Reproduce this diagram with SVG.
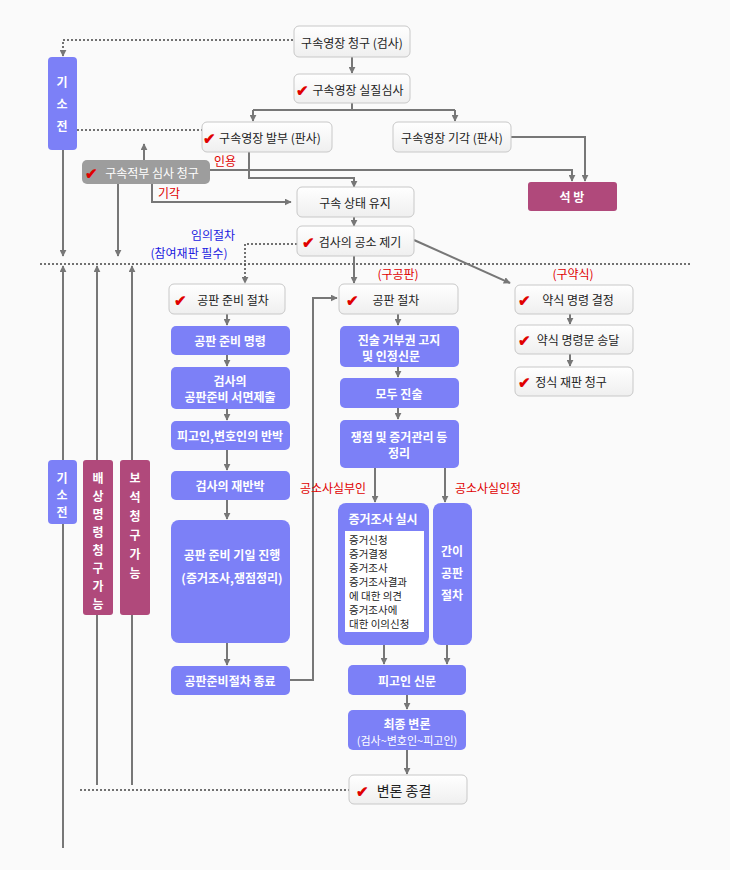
<svg xmlns="http://www.w3.org/2000/svg" width="730" height="870" viewBox="0 0 730 870">
<defs>
<linearGradient id="wg" x1="0" y1="0" x2="0" y2="1"><stop offset="0" stop-color="#ffffff"/><stop offset="1" stop-color="#efefef"/></linearGradient>
<marker id="ar" viewBox="0 0 10 10" refX="9" refY="5" markerWidth="7" markerHeight="7" orient="auto-start-reverse" markerUnits="userSpaceOnUse"><path d="M0,0 L10,5 L0,10 Z" fill="#777"/></marker>
</defs>
<style>
text{font-family:"Noto Sans CJK KR","Noto Sans",sans-serif;font-size:12px;fill:#222;text-anchor:middle;dominant-baseline:central}
.w{fill:url(#wg);stroke:#c8c8c8;stroke-width:1}
.b{fill:#7c80f7}
.p{fill:#b0497b}
.g{fill:#9d9d9d}
.wt{fill:#fff;font-weight:bold}
.r{fill:#e00000}
.bl{fill:#1a1ae0}
.ck{fill:#e00000;font-weight:bold;font-size:15px}
.ev{text-anchor:start;font-size:10.5px}
.ln{stroke:#777;stroke-width:2;fill:none}
.dt{stroke:#444;stroke-width:1.5;fill:none;stroke-dasharray:2 2}
.a{marker-end:url(#ar)}
</style>
<rect width="730" height="870" fill="#fafafa"/>
<g id="connectors">
<path class="dt a" d="M293,40 H63 V56"/>
<path class="dt" d="M77,130 H202"/>
<path class="dt a" d="M297,244 H245 V283"/>
<path class="dt" d="M40,264 H690"/>
<path class="dt" d="M80,790 H349"/>
<path class="ln a" d="M352,57 V73"/>
<path class="ln" d="M352,103 V110 M253,110 H455"/>
<path class="ln a" d="M253,110 V121"/>
<path class="ln a" d="M455,110 V121"/>
<path class="ln a" d="M511,137 H585 V181"/>
<path class="ln a" d="M210,170 H572 V181"/>
<path class="ln a" d="M249,152 V178 H354 V187"/>
<path class="ln a" d="M144,160 V144"/>
<path class="ln a" d="M152,184 V202 H291"/>
<path class="ln a" d="M118,184 V256"/>
<path class="ln a" d="M63,150 V256"/>
<path class="ln a" d="M354,217 V226"/>
<path class="ln a" d="M354,256 V283"/>
<path class="ln a" d="M414,240 L510,283"/>
<path class="ln a" d="M570,314 V324"/>
<path class="ln a" d="M570,354 V366"/>
<path class="ln a" d="M227,314 V325"/>
<path class="ln a" d="M227,355 V366"/>
<path class="ln a" d="M227,409 V420"/>
<path class="ln a" d="M227,450 V470"/>
<path class="ln a" d="M227,500 V519"/>
<path class="ln a" d="M227,643 V665"/>
<path class="ln a" d="M290,680 H313 V298 H337"/>
<path class="ln a" d="M398,314 V325"/>
<path class="ln a" d="M398,367 V377"/>
<path class="ln a" d="M398,408 V419"/>
<path class="ln a" d="M375,468 V502"/>
<path class="ln a" d="M445,468 V502"/>
<path class="ln a" d="M384,645 V664"/>
<path class="ln a" d="M447,645 V664"/>
<path class="ln a" d="M407,695 V709"/>
<path class="ln a" d="M407,750 V774"/>
<path class="ln a" d="M63,848 V266"/>
<path class="ln a" d="M97,785 V266"/>
<path class="ln a" d="M132,785 V266"/>
</g>
<g id="n1"><rect class="w" x="294" y="26" width="116" height="31" rx="5"/><text x="352" y="42">구속영장 청구 (검사)</text></g>
<g id="n2"><rect class="w" x="294" y="74" width="116" height="29" rx="5"/><text x="358" y="89">구속영장 실질심사</text><text class="ck" x="302" y="89">✔</text></g>
<g id="n3"><rect class="w" x="202" y="122" width="130" height="30" rx="5"/><text x="270" y="137">구속영장 발부 (판사)</text><text class="ck" x="209" y="137">✔</text></g>
<g id="n4"><rect class="w" x="393" y="122" width="118" height="30" rx="5"/><text x="452" y="137">구속영장 기각 (판사)</text></g>
<g id="n5"><rect class="p" x="528" y="182" width="89" height="29" rx="3"/><text class="wt" x="572" y="196">석 방</text></g>
<g id="n6"><rect class="g" x="82" y="160" width="128" height="24" rx="5"/><text class="wt" x="152" y="172" style="font-weight:normal">구속적부 심사 청구</text><text class="ck" x="91" y="172">✔</text></g>
<g id="n7"><rect class="w" x="297" y="187" width="117" height="30" rx="5"/><text x="355" y="202">구속 상태 유지</text></g>
<g id="n8"><rect class="w" x="297" y="226" width="117" height="30" rx="5"/><text x="360" y="241">검사의 공소 제기</text><text class="ck" x="308" y="241">✔</text></g>
<g id="lbl">
<text class="r" x="225" y="160">인용</text>
<text class="r" x="169" y="192">기각</text>
<text class="bl" x="213" y="234">임의절차</text>
<text class="bl" x="189" y="252">(참여재판 필수)</text>
<text class="r" x="398" y="273">(구공판)</text>
<text class="r" x="573" y="273">(구약식)</text>
<text class="r" x="333" y="487">공소사실부인</text>
<text class="r" x="488" y="487">공소사실인정</text>
</g>
<g id="pre1"><rect class="b" x="48" y="57" width="29" height="93" rx="4"/><text class="wt" x="62" y="81">기</text><text class="wt" x="62" y="103">소</text><text class="wt" x="62" y="125">전</text></g>
<g id="pre2"><rect class="b" x="48" y="460" width="29" height="64" rx="4"/><text class="wt" x="62" y="477">기</text><text class="wt" x="62" y="494">소</text><text class="wt" x="62" y="511">전</text></g>
<g id="bae"><rect class="p" x="83" y="460" width="30" height="155" rx="3"/><text class="wt" x="98" y="477">배</text><text class="wt" x="98" y="495">상</text><text class="wt" x="98" y="513">명</text><text class="wt" x="98" y="531">령</text><text class="wt" x="98" y="549">청</text><text class="wt" x="98" y="567">구</text><text class="wt" x="98" y="585">가</text><text class="wt" x="98" y="603">능</text></g>
<g id="bo"><rect class="p" x="120" y="460" width="30" height="155" rx="3"/><text class="wt" x="135" y="477">보</text><text class="wt" x="135" y="496">석</text><text class="wt" x="135" y="515">청</text><text class="wt" x="135" y="534">구</text><text class="wt" x="135" y="553">가</text><text class="wt" x="135" y="572">능</text></g>
<g id="l0"><rect class="w" x="169" y="284" width="116" height="30" rx="5"/><text x="233" y="299">공판 준비 절차</text><text class="ck" x="180" y="299">✔</text></g>
<g id="l1"><rect class="b" x="171" y="326" width="119" height="29" rx="5"/><text class="wt" x="230" y="340">공판 준비 명령</text></g>
<g id="l2"><rect class="b" x="171" y="367" width="119" height="42" rx="5"/><text class="wt" x="230" y="380">검사의</text><text class="wt" x="230" y="396">공판준비 서면제출</text></g>
<g id="l3"><rect class="b" x="171" y="421" width="119" height="29" rx="5"/><text class="wt" x="230" y="435">피고인,변호인의 반박</text></g>
<g id="l4"><rect class="b" x="171" y="471" width="119" height="29" rx="5"/><text class="wt" x="230" y="485">검사의 재반박</text></g>
<g id="l5"><rect class="b" x="171" y="520" width="119" height="123" rx="8"/><text class="wt" x="232" y="554">공판 준비 기일 진행</text><text class="wt" x="232" y="577">(증거조사,쟁점정리)</text></g>
<g id="l6"><rect class="b" x="171" y="666" width="119" height="29" rx="5"/><text class="wt" x="230" y="680">공판준비절차 종료</text></g>
<g id="m0"><rect class="w" x="339" y="284" width="119" height="30" rx="5"/><text x="396" y="299">공판 절차</text><text class="ck" x="352" y="299">✔</text></g>
<g id="m1"><rect class="b" x="340" y="326" width="119" height="41" rx="5"/><text class="wt" x="399" y="339">진술 거부권 고지</text><text class="wt" x="391" y="355">및 인정신문</text></g>
<g id="m2"><rect class="b" x="340" y="378" width="119" height="30" rx="5"/><text class="wt" x="399" y="393">모두 진술</text></g>
<g id="m3"><rect class="b" x="340" y="420" width="119" height="48" rx="5"/><text class="wt" x="399" y="436">쟁점 및 증거관리 등</text><text class="wt" x="399" y="452">정리</text></g>
<g id="m4"><rect class="b" x="338" y="503" width="91" height="142" rx="8"/><text class="wt" x="383" y="518">증거조사 실시</text><rect x="345" y="531" width="79" height="101" fill="#fff"/>
<text class="ev" x="349" y="539">증거신청</text><text class="ev" x="349" y="553">증거결정</text><text class="ev" x="349" y="567">증거조사</text><text class="ev" x="349" y="581">증거조사결과</text><text class="ev" x="349" y="595">에 대한 의견</text><text class="ev" x="349" y="609">증거조사에</text><text class="ev" x="349" y="623">대한 이의신청</text></g>
<g id="m5"><rect class="b" x="433" y="503" width="39" height="142" rx="8"/><text class="wt" x="452" y="550">간이</text><text class="wt" x="452" y="572">공판</text><text class="wt" x="452" y="594">절차</text></g>
<g id="m6"><rect class="b" x="348" y="665" width="118" height="30" rx="5"/><text class="wt" x="407" y="680">피고인 신문</text></g>
<g id="m7"><rect class="b" x="348" y="710" width="118" height="40" rx="5"/><text class="wt" x="407" y="723">최종 변론</text><text class="wt" x="407" y="740" style="font-weight:normal;font-size:11px">(검사~변호인~피고인)</text></g>
<g id="m8"><rect class="w" x="349" y="775" width="118" height="29" rx="5"/><text x="404" y="790" style="font-size:14px">변론 종결</text><text class="ck" x="362" y="790">✔</text></g>
<g id="r1"><rect class="w" x="515" y="285" width="118" height="29" rx="5"/><text x="578" y="299">약식 명령 결정</text><text class="ck" x="524" y="299">✔</text></g>
<g id="r2"><rect class="w" x="515" y="325" width="118" height="29" rx="5"/><text x="578" y="339">약식 명령문 송달</text><text class="ck" x="524" y="339">✔</text></g>
<g id="r3"><rect class="w" x="515" y="367" width="118" height="29" rx="5"/><text x="571" y="381">정식 재판 청구</text><text class="ck" x="524" y="381">✔</text></g>
</svg>
